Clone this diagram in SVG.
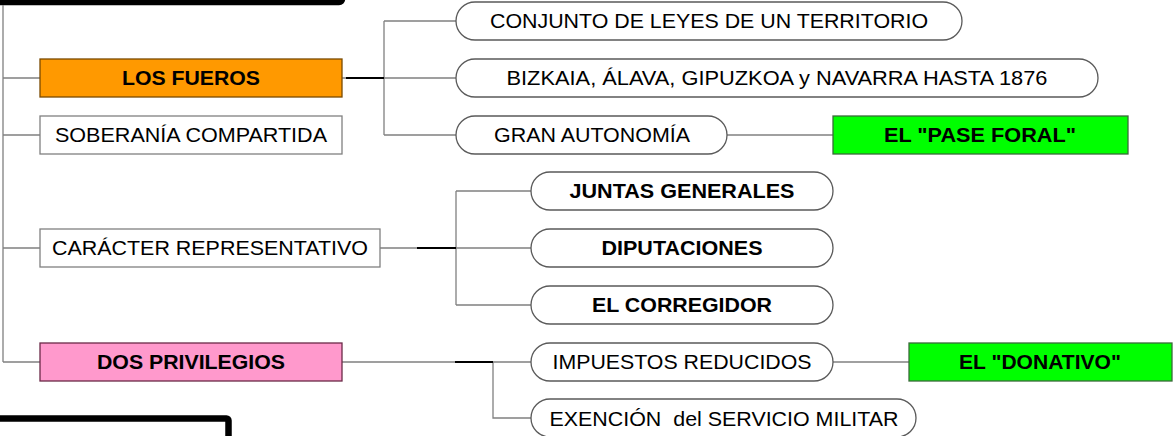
<svg xmlns="http://www.w3.org/2000/svg" width="1176" height="436" viewBox="0 0 1176 436">
<style>
.bg{fill:#ffffff}
.frame{fill:none;stroke:#000;stroke-width:6.5;stroke-linejoin:round}
.ln{fill:none;stroke:#808080;stroke-width:1.3}
.thk{fill:none;stroke:#000;stroke-width:2}
.box{fill:#fff;stroke:#808080;stroke-width:1.3}
.orange{fill:#FF9900;stroke:#7a4a00;stroke-width:1.3}
.pink{fill:#FF99CC;stroke:#6b2a48;stroke-width:1.3}
.green{fill:#00FF00;stroke:#3a6a3a;stroke-width:1.3}
.pill{fill:#fff;stroke:#5a5a5a;stroke-width:1.3}
text{font-family:"Liberation Sans",Arial,sans-serif;font-size:21px;fill:#000;text-anchor:middle}
.b{font-weight:bold}
</style>
<rect class="bg" x="0" y="0" width="1176" height="436"/>
<rect class="frame" x="-20" y="-30" width="362" height="32" rx="3"/>
<rect class="frame" x="-20" y="418.5" width="248.5" height="40" rx="2"/>
<g id="connectors">
<path class="ln" d="M3,5 V362 M3,78 H40 M3,135 H40 M3,248 H40 M3,362 H40"/>
<path class="ln" d="M342,78 H384 M384,21 V135 M384,21 H456 M384,78 H456 M384,135 H456"/>
<path class="thk" d="M346,78 H384"/>
<path class="ln" d="M727,135 H833"/>
<path class="ln" d="M380,248 H456 M456,191 V305 M456,191 H531 M456,248 H531 M456,305 H531"/>
<path class="thk" d="M417,248 H456"/>
<path class="ln" d="M342,362 H531 M493,362 V418 H531"/>
<path class="thk" d="M455,362 H493"/>
<path class="ln" d="M833,362 H909"/>
</g>
<g id="los-fueros"><rect class="orange" x="40" y="59" width="302" height="38"/><text class="b" x="191" y="85" textLength="138" lengthAdjust="spacingAndGlyphs">LOS FUEROS</text></g>
<g id="soberania"><rect class="box" x="40" y="116" width="302" height="38"/><text x="191" y="142" textLength="272" lengthAdjust="spacingAndGlyphs">SOBERANÍA COMPARTIDA</text></g>
<g id="caracter"><rect class="box" x="40" y="229" width="340" height="38"/><text x="210" y="255" textLength="316" lengthAdjust="spacingAndGlyphs">CARÁCTER REPRESENTATIVO</text></g>
<g id="dos-privilegios"><rect class="pink" x="40" y="343" width="302" height="38"/><text class="b" x="191" y="369" textLength="188" lengthAdjust="spacingAndGlyphs">DOS PRIVILEGIOS</text></g>
<g id="conjunto"><rect class="pill" x="456" y="2" width="506" height="38" rx="19"/><text x="709" y="28" textLength="438" lengthAdjust="spacingAndGlyphs">CONJUNTO DE LEYES DE UN TERRITORIO</text></g>
<g id="bizkaia"><rect class="pill" x="456" y="59" width="642" height="38" rx="19"/><text x="777" y="85" textLength="541" lengthAdjust="spacingAndGlyphs">BIZKAIA, ÁLAVA, GIPUZKOA y NAVARRA HASTA 1876</text></g>
<g id="gran-autonomia"><rect class="pill" x="456" y="116" width="271" height="38" rx="19"/><text x="592" y="142" textLength="196" lengthAdjust="spacingAndGlyphs">GRAN AUTONOMÍA</text></g>
<g id="pase-foral"><rect class="green" x="833" y="116" width="295" height="38"/><text class="b" x="980" y="142" textLength="192" lengthAdjust="spacingAndGlyphs">EL "PASE FORAL"</text></g>
<g id="juntas"><rect class="pill" x="531" y="172" width="302" height="38" rx="19"/><text class="b" x="682" y="198" textLength="225" lengthAdjust="spacingAndGlyphs">JUNTAS GENERALES</text></g>
<g id="diputaciones"><rect class="pill" x="531" y="229" width="302" height="38" rx="19"/><text class="b" x="682" y="255" textLength="161" lengthAdjust="spacingAndGlyphs">DIPUTACIONES</text></g>
<g id="corregidor"><rect class="pill" x="531" y="286" width="302" height="38" rx="19"/><text class="b" x="682" y="312" textLength="180" lengthAdjust="spacingAndGlyphs">EL CORREGIDOR</text></g>
<g id="impuestos"><rect class="pill" x="531" y="343" width="302" height="38" rx="19"/><text x="682" y="369" textLength="259" lengthAdjust="spacingAndGlyphs">IMPUESTOS REDUCIDOS</text></g>
<g id="donativo"><rect class="green" x="909" y="343" width="263" height="38"/><text class="b" x="1040" y="369" textLength="162" lengthAdjust="spacingAndGlyphs">EL "DONATIVO"</text></g>
<g id="exencion"><rect class="pill" x="531" y="399" width="385" height="38" rx="19"/><text x="724" y="426" textLength="349" lengthAdjust="spacingAndGlyphs" xml:space="preserve">EXENCIÓN  del SERVICIO MILITAR</text></g>
</svg>
